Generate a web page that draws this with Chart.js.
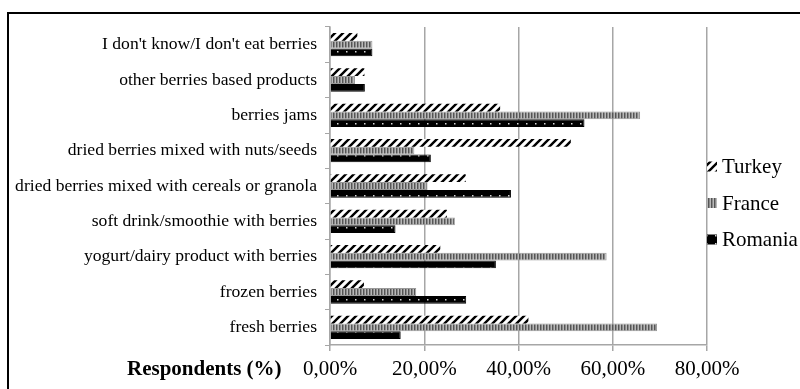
<!DOCTYPE html>
<html>
<head>
<meta charset="utf-8">
<script src="https://cdn.jsdelivr.net/npm/chart.js@4.4.1/dist/chart.umd.min.js"></script>
<style>
    html, body { margin: 0; padding: 0; background: #fff; overflow: hidden; }
    #marco { position: absolute; left: 7px; top: 12px; width: 900px; height: 500px; border: 2px solid #000; }
    #contenedor { position: absolute; left: 0; top: 0; width: 800px; height: 389px; }
</style>
</head>
<body>
<div id="marco"></div>
<div id="contenedor"><canvas id="graficaBayas" width="800" height="389"></canvas></div>
<script>
/* ===============================
   DATOS
================================= */
const categorias = [
    "I don't know/I don't eat berries",
    "other berries based products",
    "berries jams",
    "dried berries mixed with nuts/seeds",
    "dried berries mixed with cereals or granola",
    "soft drink/smoothie with berries",
    "yogurt/dairy product with berries",
    "frozen berries",
    "fresh berries"
];
const paises = ["Turkey", "France", "Romania"];
const turquia = [5.8, 7.3, 36.1, 51.1, 28.8, 24.8, 23.4, 7.2, 42.1];
const francia = [9.0, 5.3, 65.8, 17.9, 20.7, 26.5, 58.7, 18.3, 69.4];
const rumania = [9.0, 7.4, 54.0, 21.4, 38.4, 13.9, 35.2, 28.9, 15.0];
const ticksX = [0, 20, 40, 60, 80];

/* ===============================
   PATRONES
================================= */
function crearPatron(ancho, alto, dibujar) {
    let c = document.createElement("canvas");
    c.width = ancho;
    c.height = alto;
    let g = c.getContext("2d");
    dibujar(g);
    return g.createPattern(c, "repeat");
}

const ctx = document.getElementById("graficaBayas").getContext("2d");

const patronTurquia = crearPatron(8, 8, g => {
    g.fillStyle = "#fff";
    g.fillRect(0, 0, 8, 8);
    g.strokeStyle = "#000";
    g.lineWidth = 2.4;
    g.beginPath();
    g.moveTo(-2, 10); g.lineTo(10, -2);
    g.moveTo(-6, 6); g.lineTo(6, -6);
    g.moveTo(2, 14); g.lineTo(14, 2);
    g.stroke();
});

const patronFrancia = crearPatron(3, 4, g => {
    g.fillStyle = "#b8b8b8";
    g.fillRect(0, 0, 3, 4);
    g.fillStyle = "#555";
    g.fillRect(0, 0, 1, 4);
    g.fillStyle = "#8a8a8a";
    g.fillRect(1, 0, 1, 4);
});

const patronRumania = crearPatron(9, 8, g => {
    g.fillStyle = "#000";
    g.fillRect(0, 0, 9, 8);
    g.fillStyle = "#d8d8d8";
    g.fillRect(4, 3, 1.5, 1.5);
});

/* ===============================
   LEYENDA Y TITULO
================================= */
const leyendaPropia = {
    id: "leyendaPropia",
    afterDraw(chart) {
        let c = chart.ctx;
        let area = chart.chartArea;
        c.save();
        chart.data.datasets.forEach((ds, i) => {
            let y = 203 + (i - 1) * 36.5;
            let x = area.right;
            c.fillStyle = ds.backgroundColor;
            c.fillRect(x, y - 5, 10, 10);
            c.fillStyle = "#000";
            c.font = "21px 'Liberation Serif'";
            c.textBaseline = "middle";
            c.textAlign = "left";
            c.fillText(ds.label, x + 15, y + 1);
        });
        c.font = "bold 21px 'Liberation Serif'";
        c.textBaseline = "middle";
        c.textAlign = "left";
        c.fillStyle = "#000";
        c.fillText("Respondents (%)", 127, 370);
        c.restore();
    }
};

/* ===============================
   GRAFICA
================================= */
new Chart(ctx, {
    type: "bar",
    data: {
        labels: categorias,
        datasets: [
            { label: paises[0], data: turquia, backgroundColor: patronTurquia, borderWidth: 0 },
            { label: paises[1], data: francia, backgroundColor: patronFrancia, borderColor: "#999", borderWidth: 1 },
            { label: paises[2], data: rumania, backgroundColor: patronRumania, borderColor: "#000", borderWidth: 1 }
        ]
    },
    options: {
        indexAxis: "y",
        responsive: false,
        animation: false,
        devicePixelRatio: 1,
        categoryPercentage: 0.66,
        barPercentage: 1.0,
        layout: { padding: { top: 27, right: 93, left: 0, bottom: 0 } },
        plugins: {
            legend: { display: false },
            tooltip: { enabled: false }
        },
        scales: {
            x: {
                min: 0,
                max: 80,
                afterBuildTicks: scale => { scale.ticks = ticksX.map(v => ({ value: v })); },
                afterFit: scale => { scale.height = 44; },
                ticks: {
                    color: "#000",
                    font: { family: "'Liberation Serif'", size: 21 },
                    padding: 6,
                    callback: v => v.toFixed(2).replace(".", ",") + "%"
                },
                grid: { color: "#a6a6a6", lineWidth: 1.5, tickLength: 6 },
                border: { color: "#a6a6a6", width: 1.5 }
            },
            y: {
                afterFit: scale => { scale.width = 330; },
                ticks: {
                    color: "#000",
                    font: { family: "'Liberation Serif'", size: 17.6 },
                    padding: 8
                },
                grid: { drawOnChartArea: false, color: "#a6a6a6", tickLength: 5, offset: true },
                border: { color: "#a6a6a6", width: 1.5 }
            }
        }
    },
    plugins: [leyendaPropia]
});
</script>
</body>
</html>
